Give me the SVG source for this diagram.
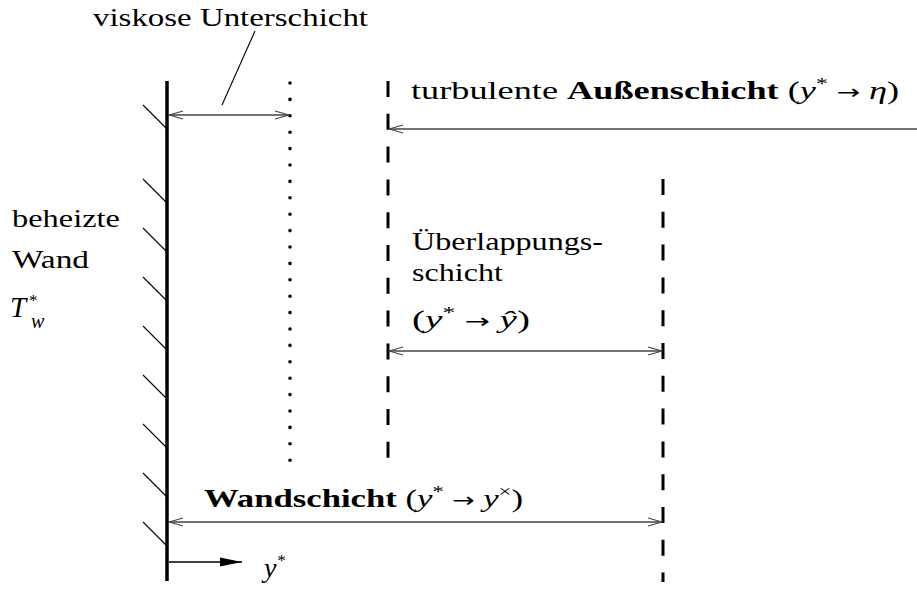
<svg xmlns="http://www.w3.org/2000/svg" width="917" height="592" viewBox="0 0 917 592">
<style>
text{font-family:"Liberation Serif","DejaVu Serif",serif;font-size:26px;fill:#000}
.it{font-style:italic}
.b{font-weight:bold}
.sup{font-size:17px}
.ar{font-family:"DejaVu Sans",sans-serif;font-size:20px}
.hatch{stroke:#000;stroke-width:1.1}
.arr{stroke:#444;stroke-width:1.3;fill:none}
</style>
<defs>
<marker id="open" viewBox="0 0 16 10" refX="15" refY="5" markerWidth="16" markerHeight="10" markerUnits="userSpaceOnUse" orient="auto-start-reverse">
<path d="M1,1 L15,5 L1,9" fill="none" stroke="#444" stroke-width="1.2"/>
</marker>
<marker id="solid" viewBox="0 0 22 10" refX="22" refY="5" markerWidth="22" markerHeight="10" markerUnits="userSpaceOnUse" orient="auto">
<path d="M0,0.5 L22,5 L0,9.5 Z" fill="#000"/>
</marker>
</defs>

<g id="wall">
<line x1="167" y1="81" x2="167" y2="581" stroke="#000" stroke-width="3.5"/>
<g class="hatch">
<line x1="143" y1="105" x2="166" y2="128"/>
<line x1="143" y1="179" x2="166" y2="202"/>
<line x1="143" y1="228" x2="166" y2="251"/>
<line x1="143" y1="277" x2="166" y2="300"/>
<line x1="143" y1="326" x2="166" y2="349"/>
<line x1="143" y1="375" x2="166" y2="398"/>
<line x1="143" y1="424" x2="166" y2="447"/>
<line x1="143" y1="473" x2="166" y2="496"/>
<line x1="143" y1="522" x2="166" y2="545"/>
</g>
<text x="12" y="227" textLength="108" lengthAdjust="spacingAndGlyphs">beheizte</text>
<text x="12" y="268" textLength="77" lengthAdjust="spacingAndGlyphs">Wand</text>
<text x="10" y="317" class="it" style="font-size:29px">T<tspan class="sup" dx="2" dy="-11">*</tspan></text>
<text x="31" y="328" class="it" style="font-size:20px">w</text>
</g>

<g id="viscous-layer">
<line x1="290" y1="83" x2="290" y2="461" stroke="#000" stroke-width="3.6" stroke-linecap="round" stroke-dasharray="0 16.4"/>
<line x1="222" y1="105" x2="255" y2="31" stroke="#000" stroke-width="1.1"/>
<text x="93" y="26" textLength="275" lengthAdjust="spacingAndGlyphs">viskose Unterschicht</text>
</g>

<g id="outer-layer">
<line x1="388" y1="81" x2="388" y2="458" stroke="#000" stroke-width="3" stroke-dasharray="16 16.8"/>
<text x="411" y="99" textLength="488" lengthAdjust="spacingAndGlyphs">turbulente <tspan class="b">Außenschicht</tspan> (<tspan class="it">y</tspan><tspan class="sup" dy="-10">*</tspan><tspan class="ar" dy="10"> → </tspan><tspan class="it">η</tspan>)</text>
</g>

<g id="overlap-layer">
<line x1="663" y1="179" x2="663" y2="582" stroke="#000" stroke-width="3" stroke-dasharray="16 16.8"/>
<text x="412" y="250" textLength="191" lengthAdjust="spacingAndGlyphs">Überlappungs-</text>
<text x="412" y="281" textLength="91" lengthAdjust="spacingAndGlyphs">schicht</text>
<text x="412" y="328" textLength="118" lengthAdjust="spacingAndGlyphs">(<tspan class="it">y</tspan><tspan class="sup" dy="-10">*</tspan><tspan class="ar" dy="10"> → </tspan><tspan class="it">ŷ</tspan>)</text>
</g>

<g id="wall-layer">
<text x="204" y="507" textLength="319" lengthAdjust="spacingAndGlyphs"><tspan class="b">Wandschicht</tspan> (<tspan class="it">y</tspan><tspan class="sup" dy="-10">*</tspan><tspan class="ar" dy="10"> → </tspan><tspan class="it">y</tspan><tspan class="sup" dy="-10">×</tspan><tspan dy="10">)</tspan></text>
</g>

<g id="axis">
<line x1="169" y1="562" x2="242" y2="562" stroke="#000" stroke-width="1.3" marker-end="url(#solid)"/>
<text x="264" y="577" class="it" style="font-size:28px">y<tspan class="sup" dy="-11">*</tspan></text>
</g>

<g id="connectors">
<line class="arr" x1="169" y1="115" x2="289" y2="115" marker-start="url(#open)" marker-end="url(#open)"/>
<line class="arr" x1="917" y1="129" x2="389" y2="129" marker-end="url(#open)"/>
<line class="arr" x1="389" y1="351" x2="662" y2="351" marker-start="url(#open)" marker-end="url(#open)"/>
<line class="arr" x1="169" y1="522" x2="662" y2="522" marker-start="url(#open)" marker-end="url(#open)"/>
</g>
</svg>
